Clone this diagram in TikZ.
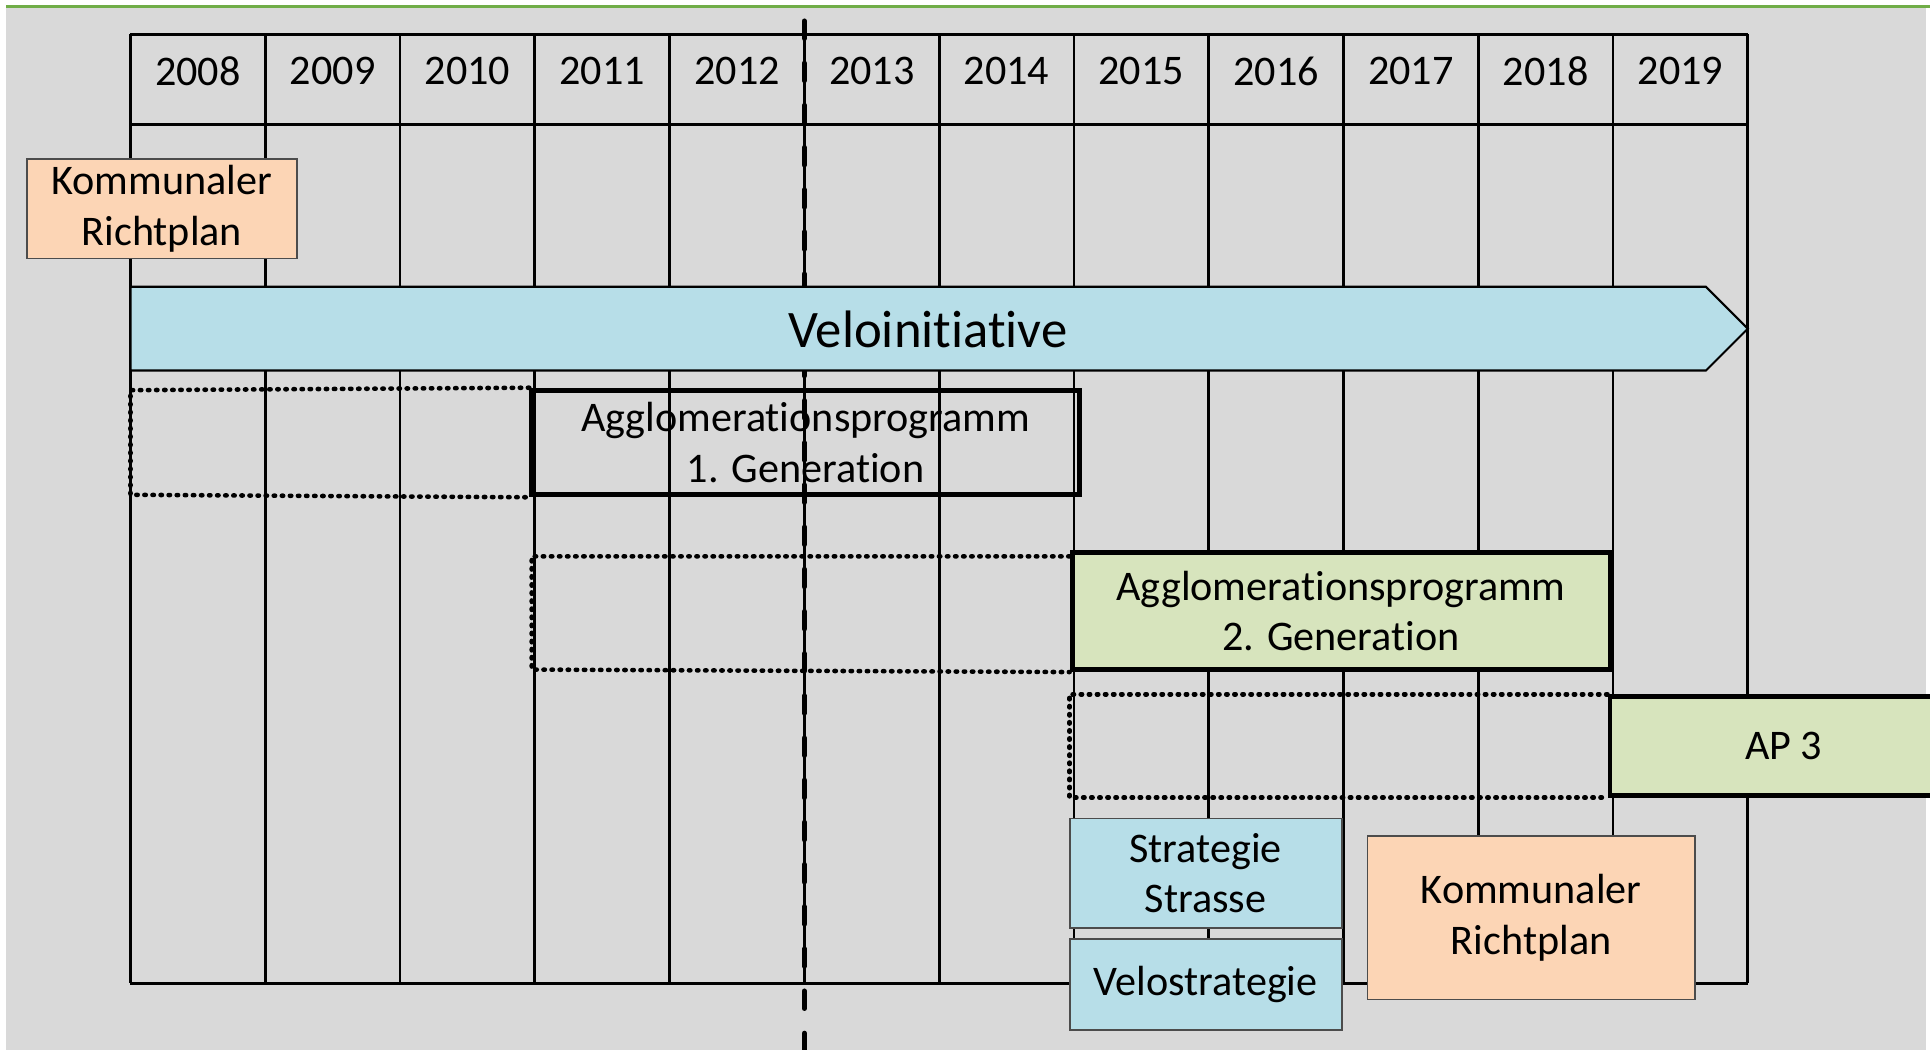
\documentclass[tikz,border=0pt]{standalone}
\usepackage{fontspec}
\setmainfont[Ligatures=NoCommon]{Carlito}

\definecolor{bggray}{HTML}{D9D9D9}
\definecolor{topgreen}{HTML}{70AD47}
\definecolor{peach}{HTML}{FCD5B5}
\definecolor{lightblue}{HTML}{B7DEE8}
\definecolor{lightgreen}{HTML}{D7E4BD}

\begin{document}
\begin{tikzpicture}[x=0.12309mm, y=-0.12309mm,
  gridline/.style={line width=0.8pt},
  plan/.style={draw=black!70, line width=0.5pt, align=center, inner sep=0pt,
    font=\fontsize{12}{14.4}\selectfont},
  program/.style={draw=black, line width=1.4pt, align=center, inner sep=0pt,
    font=\fontsize{12}{14.4}\selectfont},
  dotline/.style={line width=1.3pt, line cap=round, dash pattern=on 0.4pt off 1.9pt},
  yearlabel/.style={inner sep=0pt, font=\fontsize{12}{14}\selectfont}]
  \def \px {0.12309mm};
  \def \leftextent {106};
  \def \rightextent {1420};
  \def \colwidth {109.5};
  \def \tabletop {28};
  \def \headerbottom {101};
  \def \tablebottom {799};

  % Background and green rule at the top.
  \clip (0, 0) rectangle (1568, 853);
  \fill[white] (0, 0) rectangle (1568, 853);
  \fill[bggray] (5, 6) rectangle (1565, 853);
  \draw[topgreen, line width=0.9pt] (5, 5) -- (1568, 5);

  % Draw the year table.
  \foreach \i in {0, ..., 12} {
    \draw[gridline] ({\leftextent + \i*\colwidth}, \tabletop) -- ({\leftextent + \i*\colwidth}, \tablebottom);
  };
  \draw[gridline] (\leftextent, \tabletop) -- (\rightextent, \tabletop);
  \draw[gridline] (\leftextent, \headerbottom) -- (\rightextent, \headerbottom);
  \draw[gridline] (\leftextent, \tablebottom) -- (\rightextent, \tablebottom);
  \foreach \year [count=\i from 0] in {2008, ..., 2019} {
    \node[yearlabel] (y\year) at ({\leftextent + (\i + 0.5)*\colwidth}, 58) {\year};
  };

  % Draw the dashed "today" line.
  \draw[line width=1.4pt, line cap=round, dash pattern=on 5pt off 7pt] (653.5, 17) -- (653.5, 860);

  % Draw Kommunaler Richtplan (2008).
  \node[plan, fill=peach, minimum width=219*\px, minimum height=81*\px] (richtplanA) at (131.5, 169.5) {Kommunaler\\Richtplan};

  % Draw Veloinitiative arrow.
  \draw[fill=lightblue, line width=0.6pt] (\leftextent, 233) -- (1386, 233) -- (\rightextent, 267) -- (1386, 301) -- (\leftextent, 301) -- cycle;
  \node[inner sep=0pt, font=\fontsize{15}{18}\selectfont] (velo) at (754, 268) {Veloinitiative};

  % Draw Agglomerationsprogramme.
  \node[program, minimum width=445*\px, minimum height=85*\px] (apone) at (654.5, 359.5) {Agglomerationsprogramm\\1. Generation};
  \draw[dotline] (apone.north west) -- (\leftextent, 317) -- (\leftextent, 402) -- (apone.south west);

  \node[program, fill=lightgreen, minimum width=437*\px, minimum height=95*\px] (aptwo) at (1089.5, 496.5) {Agglomerationsprogramm\\2. Generation};
  \draw[dotline] (aptwo.west |- 0, 452) -- (432, 452) -- (432, 544) -- (aptwo.south west);

  \node[program, fill=lightgreen, minimum width=282*\px, minimum height=80*\px] (apthree) at (1449, 606) {AP 3};
  \draw[dotline] (apthree.north west) -- (aptwo.south west |- apthree.north) -- (aptwo.south west |- apthree.south) -- (apthree.south west);

  % Draw strategies and Kommunaler Richtplan (2017).
  \node[plan, fill=lightblue, minimum width=221*\px, minimum height=89*\px] (strasse) at (979.5, 709.5) {Strategie\\Strasse};
  \node[plan, fill=lightblue, minimum width=221*\px, minimum height=74*\px] (velostrat) at (979.5, 800) {Velostrategie};
  \node[plan, fill=peach, minimum width=266*\px, minimum height=133*\px] (richtplanB) at (1244, 745.5) {Kommunaler\\Richtplan};
\end{tikzpicture}
\end{document}
